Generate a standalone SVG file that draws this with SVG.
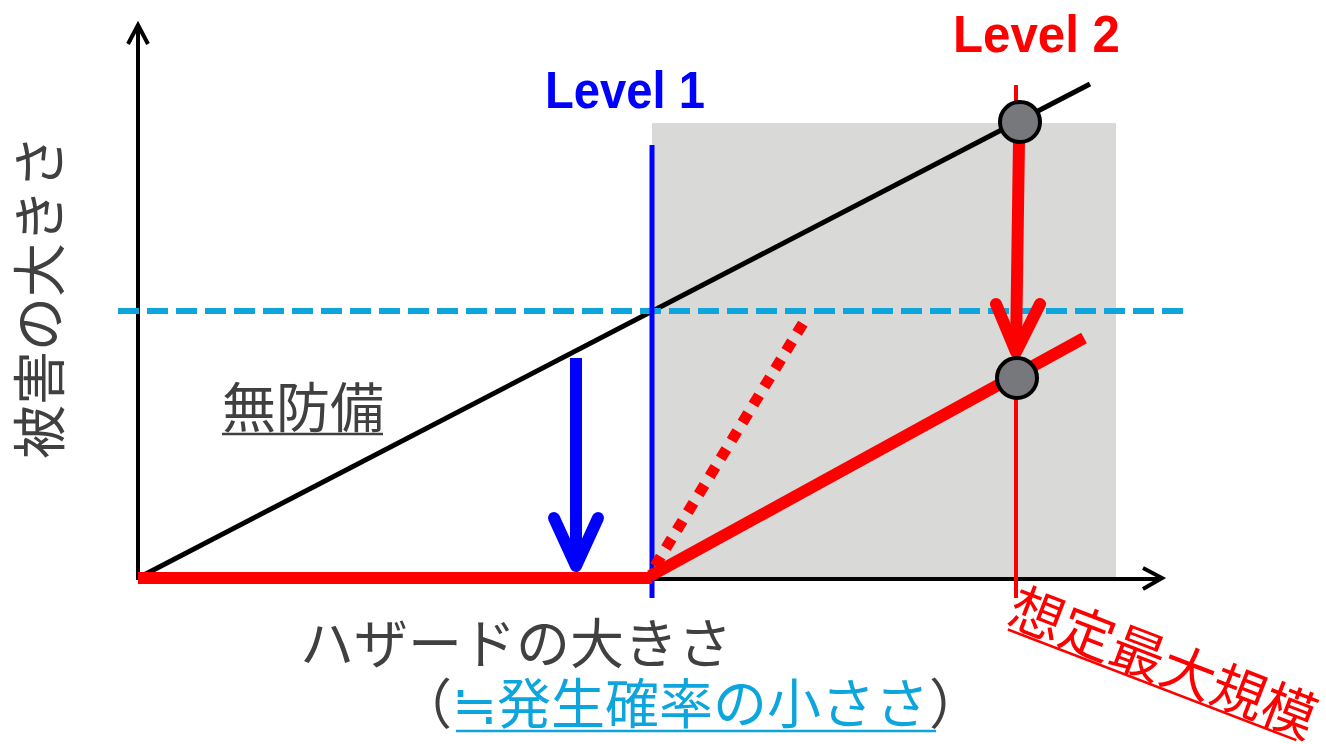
<svg xmlns="http://www.w3.org/2000/svg" width="1326" height="744" viewBox="0 0 1326 744">
<style>
.jp{font-family:"Noto Sans CJK JP","Noto Sans",sans-serif;font-size:54px}
.gray{fill:#404040}
.sky{fill:#0ea5dc}
.lvl{font-family:"Liberation Sans",Arial,sans-serif;font-weight:bold;font-size:52px}
.ax{stroke:#000;stroke-width:4;fill:none}
.head{stroke-linecap:round;stroke-linejoin:round;fill:none}
</style>
<rect width="1326" height="744" fill="#fff"/>
<g id="region">
<rect x="652" y="123" width="464" height="455" fill="#d9d9d7"/>
</g>
<g id="connectors">
<line class="ax" x1="138" y1="580" x2="138" y2="26"/>
<polyline class="ax" points="128,44 138,25 148,44" stroke-linejoin="miter"/>
<line class="ax" x1="138" y1="579" x2="1160" y2="579"/>
<polyline class="ax" points="1143,568 1162,578 1143,589"/>
<line x1="138" y1="578" x2="1090" y2="84" stroke="#000" stroke-width="5"/>
<line x1="118" y1="311" x2="1183" y2="311" stroke="#0ea5dc" stroke-width="6" stroke-dasharray="21 8"/>
<line x1="652" y1="145" x2="652" y2="598" stroke="#0000ff" stroke-width="5"/>
<line x1="1016" y1="85" x2="1016" y2="598" stroke="#ff0000" stroke-width="4"/>
<line x1="655" y1="566" x2="805" y2="320" stroke="#ff0000" stroke-width="11" stroke-dasharray="11 10"/>
<line x1="138" y1="578" x2="652" y2="578" stroke="#ff0000" stroke-width="12"/>
<line x1="650" y1="576" x2="1084" y2="338" stroke="#ff0000" stroke-width="12"/>
<line x1="576" y1="358" x2="576" y2="560" stroke="#0000ff" stroke-width="12"/>
<polyline class="head" points="554,518 576,566 598,518" stroke="#0000ff" stroke-width="12"/>
<line x1="1019" y1="140" x2="1016" y2="350" stroke="#ff0000" stroke-width="12"/>
<polyline class="head" points="996,304 1016,352 1040,304" stroke="#ff0000" stroke-width="12"/>
</g>
<g id="point-top">
<circle cx="1020" cy="122" r="20" fill="#77787c" stroke="#000" stroke-width="4"/>
</g>
<g id="point-bottom">
<circle cx="1017" cy="378" r="20" fill="#77787c" stroke="#000" stroke-width="4"/>
</g>
<g id="label-level1">
<text class="lvl" x="545" y="108" fill="#0000ff" textLength="160" lengthAdjust="spacingAndGlyphs">Level 1</text>
</g>
<g id="label-level2">
<text class="lvl" x="953" y="52" fill="#ff0000" textLength="167" lengthAdjust="spacingAndGlyphs">Level 2</text>
</g>
<g id="label-y">
<text class="jp gray" transform="translate(60,297) rotate(-90)" text-anchor="middle">被害の大きさ</text>
</g>
<g id="label-x">
<text class="jp gray" x="300" y="664">ハザードの大きさ</text>
<text class="jp" x="398" y="724"><tspan class="gray">（</tspan><tspan class="sky">≒発生確率の小ささ</tspan><tspan class="gray">）</tspan></text>
<line x1="456" y1="731" x2="936" y2="731" stroke="#0ea5dc" stroke-width="2.5"/>
</g>
<g id="label-nobousai">
<text class="jp gray" x="222" y="428">無防備</text>
<line x1="222" y1="434" x2="383" y2="434" stroke="#404040" stroke-width="2.5"/>
</g>
<g id="label-max" transform="translate(1005,623) rotate(21)">
<text class="jp" x="0" y="0" fill="#ff0000" style="font-size:54px">想定最大規模</text>
<line x1="5" y1="5" x2="314" y2="5" stroke="#ff0000" stroke-width="2.5"/>
</g>
</svg>
